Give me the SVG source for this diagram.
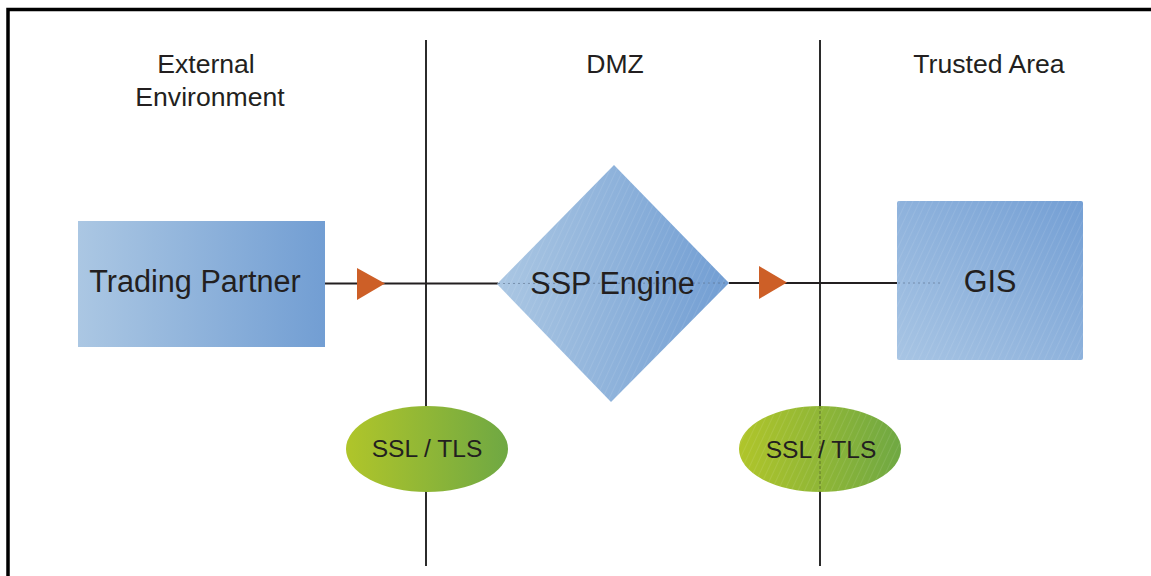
<svg xmlns="http://www.w3.org/2000/svg" width="1151" height="576" viewBox="0 0 1151 576">
<style>
.lbl{font-family:"Liberation Sans",Arial,sans-serif;fill:#231f20;text-anchor:middle}
.zone{font-size:26.6px}
.big{font-size:30.6px}
.ssl{font-size:24.6px}
.sep{stroke:#2b2b2b;stroke-width:2;fill:none}
.conn{stroke:#231f20;stroke-width:2;fill:none}
.arrow{fill:#cd5f27}
.dot{stroke:#5a6f8a;stroke-width:1;stroke-dasharray:2 3;opacity:0.6}
</style>
<defs>
<linearGradient id="gBlue" x1="0" y1="0" x2="1" y2="0">
<stop offset="0" stop-color="#abc7e3"/>
<stop offset="1" stop-color="#729ed3"/>
</linearGradient>
<linearGradient id="gBlueDiag" x1="0" y1="1" x2="1" y2="0">
<stop offset="0" stop-color="#a8c5e4"/>
<stop offset="1" stop-color="#749fd4"/>
</linearGradient>
<linearGradient id="gGreen" x1="0" y1="0" x2="1" y2="0">
<stop offset="0" stop-color="#b0c52a"/>
<stop offset="1" stop-color="#6fa843"/>
</linearGradient>
<pattern id="hatch" width="6" height="6" patternUnits="userSpaceOnUse" patternTransform="rotate(25)">
<line x1="0" y1="0" x2="0" y2="6" stroke="#ffffff" stroke-width="1" opacity="0.18"/>
</pattern>
</defs>
<path d="M8 578 V9.5 H1153" fill="none" stroke="#000" stroke-width="3.5"/>
<g id="zone-labels">
<text class="lbl zone" x="206" y="73">External</text>
<text class="lbl zone" x="210" y="106">Environment</text>
<text class="lbl zone" x="615" y="73">DMZ</text>
<text class="lbl zone" x="989" y="73">Trusted Area</text>
</g>
<g id="boundaries">
<line class="sep" x1="426" y1="40" x2="426" y2="566"/>
<line class="sep" x1="820" y1="40" x2="820" y2="566"/>
</g>
<g id="connectors">
<line class="conn" x1="325" y1="283.5" x2="498" y2="283.5"/>
<polygon class="arrow" points="357,268 385,283.5 357,300"/>
<line class="conn" x1="729" y1="283" x2="897" y2="283"/>
<polygon class="arrow" points="759,266 787,282.5 759,299"/>
</g>
<g id="trading-partner">
<rect x="78" y="221" width="247" height="126" fill="url(#gBlue)"/>
<text class="lbl big" x="195" y="292">Trading Partner</text>
</g>
<g id="ssp-engine">
<polygon points="614,165 729,283 611,402 497,284" fill="url(#gBlue)"/>
<polygon points="614,165 729,283 611,402 497,284" fill="url(#hatch)"/>
<line class="dot" x1="498" y1="283.5" x2="729" y2="283"/>
<text class="lbl big" x="612.5" y="294">SSP Engine</text>
</g>
<g id="gis">
<rect x="897" y="201" width="186" height="159" rx="2" fill="url(#gBlueDiag)"/>
<rect x="897" y="201" width="186" height="159" rx="2" fill="url(#hatch)"/>
<line class="dot" x1="898" y1="283" x2="940" y2="283"/>
<text class="lbl big" x="990" y="292">GIS</text>
</g>
<g id="ssl-left">
<ellipse cx="427" cy="449" rx="81" ry="43" fill="url(#gGreen)"/>
<text class="lbl ssl" x="427" y="457">SSL / TLS</text>
</g>
<g id="ssl-right">
<ellipse cx="820" cy="449" rx="81" ry="43" fill="url(#gGreen)"/>
<ellipse cx="820" cy="449" rx="81" ry="43" fill="url(#hatch)"/>
<line x1="820" y1="406" x2="820" y2="492" stroke="#4a5a20" stroke-width="1.5" stroke-dasharray="3 2" opacity="0.45"/>
<text class="lbl ssl" x="821" y="458">SSL / TLS</text>
</g>
</svg>
